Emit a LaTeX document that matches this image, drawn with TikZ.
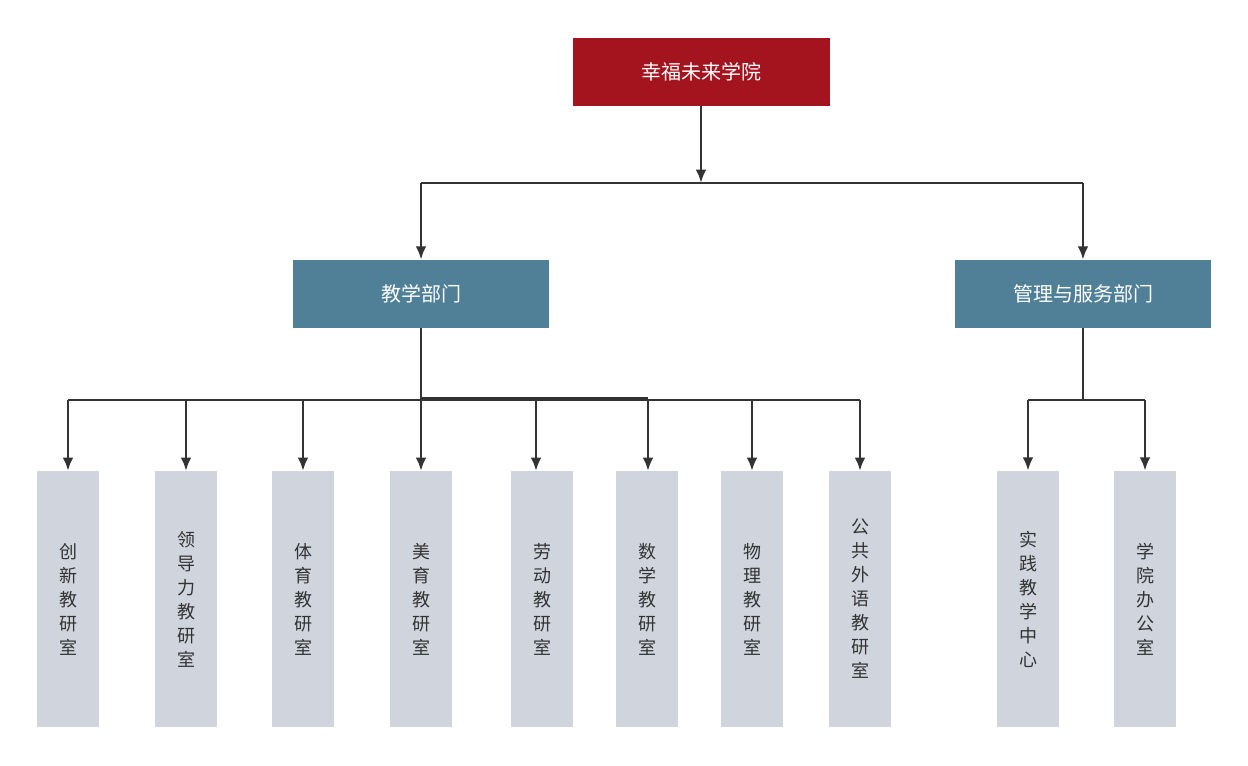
\documentclass[tikz,border=0pt]{standalone}
\usepackage{fontspec}
\setmainfont{Noto Sans CJK SC}
\usetikzlibrary{arrows.meta}
\definecolor{rootred}{HTML}{A3141F}
\definecolor{deptblue}{HTML}{4F8098}
\definecolor{leafgray}{HTML}{D0D4DC}
\definecolor{linegray}{HTML}{333333}
\tikzset{
	root/.style={fill=rootred, text=white, minimum width=192.75pt, minimum height=51pt, inner sep=0pt, font=\fontsize{15}{18}\selectfont},
	dept/.style={fill=deptblue, text=white, minimum width=192pt, minimum height=51pt, inner sep=0pt, font=\fontsize{15}{18}\selectfont},
	leaf/.style={fill=leafgray, text=linegray, minimum width=46pt, minimum height=192pt, inner sep=0pt, align=center, font=\fontsize{13.5}{18}\selectfont},
	link/.style={draw=linegray, line width=2pt},
	arr/.style={link, -{Latex[length=10pt,width=8pt]}}
}
\begin{document}
\begin{tikzpicture}[x=0.75pt, y=-0.75pt]
	\useasboundingbox (0,0) rectangle (1248,765);
	
	%Kopf
	\node[root] (root) at (701,72) {幸福未来学院};
	\node[dept] (teach) at (421,294) {教学部门};
	\node[dept] (serve) at (1083,294) {管理与服务部门};
	
	%Blätter
	\foreach \n/\x/\t in {a/68/创\\新\\教\\研\\室, b/186/领\\导\\力\\教\\研\\室, c/303/体\\育\\教\\研\\室, d/421/美\\育\\教\\研\\室, e/542/劳\\动\\教\\研\\室, f/647/数\\学\\教\\研\\室, g/752/物\\理\\教\\研\\室, h/860/公\\共\\外\\语\\教\\研\\室, i/1028/实\\践\\教\\学\\中\\心, j/1145/学\\院\\办\\公\\室}
	\node[leaf] (\n) at (\x,599) {\t};
	
	%Verbindungen oben
	\coordinate (top) at (701,183);
	\draw[arr] (root.south) -- (top);
	\draw[link] (421,183) -- (1083,183);
	\draw[arr] (421,183) -- (teach.north);
	\draw[arr] (1083,183) -- (serve.north);
	
	%Lehre
	\coordinate (tbus) at (421,400);
	\draw[link] (teach.south) -- (tbus);
	\draw[link] (68,400) -- (860,400);
	\draw[link] (421,398) -- (648,398);
	\foreach \n/\x in {a/68, b/186, c/303, d/421, e/536, f/648, g/752, h/860}
	\draw[arr] (\x,400) -- (\x,471);
	
	%Verwaltung
	\draw[link] (serve.south) -- (1083,400);
	\draw[link] (1028,400) -- (1145,400);
	\draw[arr] (1028,400) -- (i.north);
	\draw[arr] (1145,400) -- (j.north);
\end{tikzpicture}
\end{document}
